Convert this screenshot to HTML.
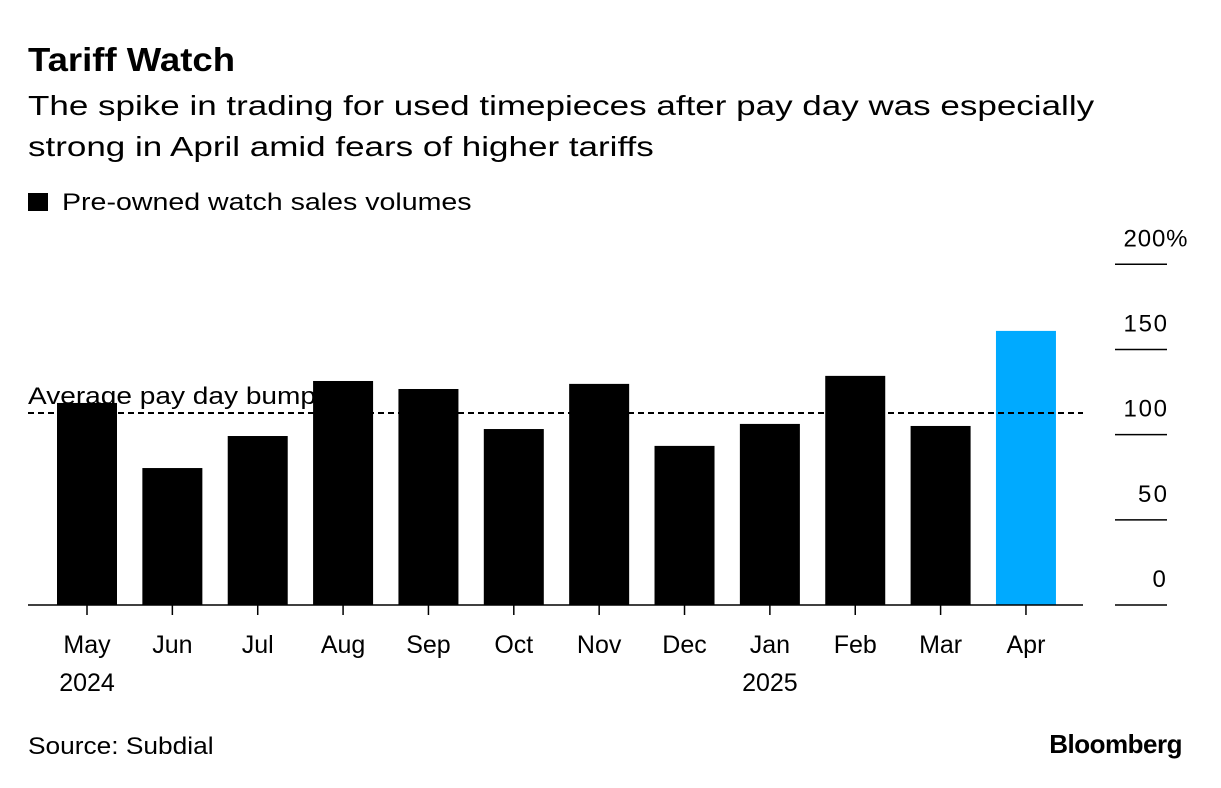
<!DOCTYPE html>
<html><head><meta charset="utf-8"><style>
body{margin:0;background:#fff;font-family:"Liberation Sans",sans-serif;color:#000}
#wrap{position:relative;width:1221px;height:788px;overflow:hidden}
.t{position:absolute;white-space:nowrap;transform-origin:0 0}
</style></head><body>
<div id="wrap">
<div class="t" style="left:28px;top:41px;font-size:33px;font-weight:bold;transform:scaleX(1.107)">Tariff Watch</div>
<div class="t" style="left:28px;top:85px;font-size:28px;line-height:41px;transform:scaleX(1.25)">The spike in trading for used timepieces after pay day was especially<br>strong in April amid fears of higher tariffs</div>
<div class="t" style="left:28px;top:189px;font-size:24px"><span style="display:inline-block;width:20px;height:18px;background:#000;margin-right:14px;vertical-align:-1px"></span><span style="display:inline-block;transform:scaleX(1.19);transform-origin:0 0">Pre-owned watch sales volumes</span></div>
<svg id="chart" width="1221" height="788" style="position:absolute;left:0;top:0"></svg>
<div class="t" style="left:28px;top:733px;font-size:24px;transform:scaleX(1.095)">Source: Subdial</div>
<div class="t" style="right:39px;top:729px;font-size:26px;font-weight:bold;letter-spacing:-0.5px">Bloomberg</div>
</div>
<script>
const categories=["May","Jun","Jul","Aug","Sep","Oct","Nov","Dec","Jan","Feb","Mar","Apr"];
const yearLabels=["2024","","","","","","","","2025","","",""];
const values=[118.6,80.4,99.2,131.5,126.8,103.3,129.8,93.4,106.3,134.5,105.1,160.9];
const highlight=[false,false,false,false,false,false,false,false,false,false,false,true];
const avgBump=112.7;
const yTicks=[0,50,100,150,200];
const yTickLabels=["0","50","100","150","200%"];
const svg=document.getElementById('chart');
const NS='http://www.w3.org/2000/svg';
const y0=605,pxPer=1.7035;
const y=v=>y0-v*pxPer;
const x=i=>87+i*85.36;
function mk(tag,attrs,parent){const e=document.createElementNS(NS,tag);for(const k in attrs)e.setAttribute(k,attrs[k]);(parent||svg).appendChild(e);return e;}
yTicks.forEach((t,i)=>{
 const l=mk('line',{x1:1115,x2:1167,y1:y(t),y2:y(t),stroke:'#000','stroke-width':1.5});
 
 
 const num=yTickLabels[i].replace('%','');
 const tx=mk('text',{x:1167-num.length*14.5,y:y(t)-18,'font-size':24,'font-family':'Liberation Sans',textLength:yTickLabels[i].length*14.5+(yTickLabels[i].includes('%')?6:0)});
 tx.textContent=yTickLabels[i];
 
 
});
values.forEach((v,i)=>{
 const r=mk('rect',{x:x(i)-30,y:y(v),width:60,height:v*pxPer,fill:highlight[i]?'#00AAFF':'#000'});
 
 
 const tk=mk('line',{x1:x(i),x2:x(i),y1:y0,y2:y0+10,stroke:'#000','stroke-width':1.5});
 
 
 const t=mk('text',{x:x(i),y:653,'font-size':25,'text-anchor':'middle','font-family':'Liberation Sans'});
 t.textContent=categories[i];
 
 
 if(yearLabels[i]){const yt=mk('text',{x:x(i),y:691,'font-size':25,'text-anchor':'middle','font-family':'Liberation Sans'});
 yt.textContent=yearLabels[i];
 
 }
});
const base=mk('line',{x1:28,x2:1083,y1:y0,y2:y0,stroke:'#000','stroke-width':1.5});


const avg=mk('line',{x1:28,x2:1083,y1:y(avgBump),y2:y(avgBump),stroke:'#000','stroke-width':2,'stroke-dasharray':'6,4'});


const al=mk('text',{x:28,y:y(avgBump)-9,'font-size':24,'font-family':'Liberation Sans',textLength:288,lengthAdjust:'spacingAndGlyphs'});
al.textContent='Average pay day bump';


</script>
</body></html>
